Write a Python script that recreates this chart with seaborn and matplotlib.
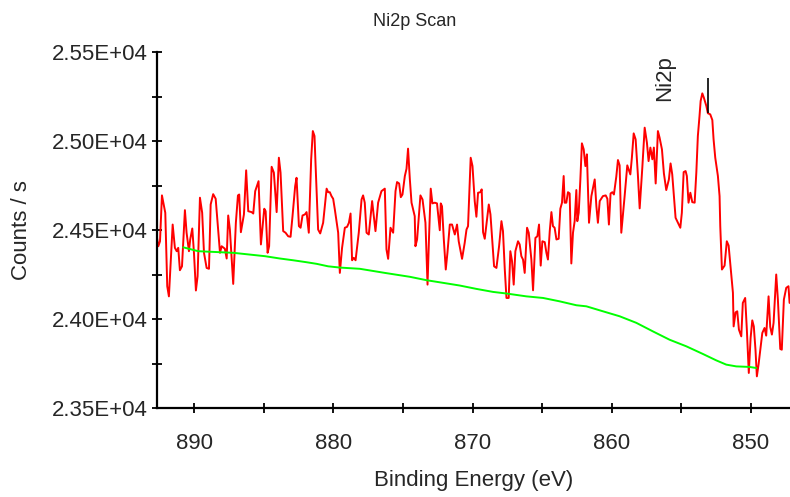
"""
Ni2p XPS scan - seaborn version
"""

import pandas as pd
import matplotlib
matplotlib.use("Agg")
import matplotlib.pyplot as plt
from matplotlib.ticker import MultipleLocator, FuncFormatter
import seaborn as sns

sns.set_style("ticks")
plt.rcParams['font.family'] = ['Liberation Sans', 'DejaVu Sans']

# measured spectrum (binding energy in eV, counts / s)
scan_ev = [
    892.75, 892.58, 892.46, 892.32, 892.08, 891.94, 891.82, 891.55, 891.39, 891.26,
    891.15, 891.03, 890.88, 890.67, 890.55, 890.38, 890.29, 890.14, 890.02, 889.88,
    889.76, 889.59, 889.43, 889.30, 889.11, 888.94, 888.82, 888.64, 888.46, 888.32,
    888.15, 888.03, 887.80, 887.67, 887.56, 887.44, 887.20, 887.01, 886.86, 886.77,
    886.65, 886.43, 886.27, 886.12, 885.88, 885.76, 885.62, 885.38, 885.21, 884.97,
    884.87, 884.73, 884.62, 884.44, 884.28, 884.08, 883.92, 883.80, 883.61, 883.44,
    883.25, 883.08, 882.94, 882.75, 882.65, 882.48, 882.36, 882.22, 882.05, 881.93,
    881.77, 881.60, 881.48, 881.36, 881.28, 881.10, 880.95, 880.74, 880.49, 880.38,
    880.26, 880.14, 880.02, 879.90, 879.66, 879.54, 879.38, 879.18, 879.02, 878.89,
    878.77, 878.66, 878.54, 878.41, 878.18, 877.98, 877.87, 877.75, 877.62, 877.46,
    877.22, 876.98, 876.79, 876.55, 876.31, 876.19, 876.07, 875.90, 875.71, 875.54,
    875.43, 875.28, 875.16, 875.04, 874.87, 874.75, 874.64, 874.51, 874.39, 874.16,
    874.11, 873.99, 873.75, 873.60, 873.39, 873.24, 873.13, 873.01, 872.89, 872.72,
    872.56, 872.36, 872.29, 872.20, 872.07, 871.93, 871.81, 871.64, 871.48, 871.28,
    871.12, 871.00, 870.76, 870.57, 870.44, 870.33, 870.14, 870.01, 869.85, 869.73,
    869.61, 869.44, 869.35, 869.25, 869.13, 869.01, 868.84, 868.72, 868.58, 868.46,
    868.29, 868.10, 867.93, 867.82, 867.69, 867.57, 867.41, 867.29, 867.17, 867.05,
    866.93, 866.74, 866.62, 866.50, 866.38, 866.26, 866.09, 865.97, 865.78, 865.66,
    865.49, 865.35, 865.23, 865.11, 864.99, 864.82, 864.70, 864.59, 864.46, 864.34,
    864.23, 864.11, 863.98, 863.82, 863.70, 863.58, 863.46, 863.39, 863.27, 863.15,
    863.03, 862.91, 862.79, 862.67, 862.55, 862.48, 862.38, 862.26, 862.15, 862.02,
    861.90, 861.79, 861.64, 861.47, 861.23, 861.11, 861.00, 860.87, 860.64, 860.44,
    860.32, 860.21, 860.09, 859.96, 859.85, 859.68, 859.56, 859.44, 859.32, 859.08,
    858.89, 858.67, 858.56, 858.43, 858.29, 858.13, 858.00, 857.81, 857.64, 857.48,
    857.36, 857.23, 857.09, 856.98, 856.85, 856.69, 856.57, 856.40, 856.26, 856.09,
    855.90, 855.78, 855.66, 855.49, 855.42, 855.25, 855.08, 854.97, 854.84, 854.70,
    854.61, 854.49, 854.36, 854.22, 854.05, 853.93, 853.82, 853.70, 853.62, 853.50,
    853.39, 853.21, 853.10, 852.93, 852.78, 852.69, 852.57, 852.38, 852.26, 852.21,
    852.09, 851.90, 851.74, 851.61, 851.42, 851.30, 851.25, 851.11, 850.99, 850.87,
    850.70, 850.59, 850.42, 850.30, 850.16, 850.03, 849.91, 849.80, 849.68, 849.58,
    849.46, 849.19, 849.03, 848.91, 848.74, 848.62, 848.50, 848.38, 848.19, 848.07,
    847.90, 847.79, 847.64, 847.47, 847.31, 847.23,
]
scan_cps = [
    24495, 24410, 24438, 24696, 24598, 24185, 24128, 24532, 24401, 24382,
    24401, 24275, 24297, 24613, 24486, 24382, 24448, 24510, 24373, 24161,
    24241, 24683, 24598, 24373, 24288, 24283, 24645, 24703, 24677, 24542,
    24373, 24410, 24396, 24341, 24583, 24504, 24198, 24542, 24696, 24701,
    24489, 24589, 24837, 24607, 24602, 24594, 24720, 24776, 24420, 24621,
    24607, 24373, 24410, 24857, 24824, 24602, 24908, 24824, 24495, 24486,
    24466, 24463, 24579, 24748, 24795, 24523, 24514, 24583, 24589, 24602,
    24486, 24899, 25058, 25030, 24861, 24504, 24482, 24542, 24734, 24714,
    24714, 24692, 24677, 24617, 24486, 24260, 24401, 24514, 24519, 24542,
    24594, 24331, 24345, 24331, 24486, 24673, 24696, 24655, 24486, 24476,
    24664, 24495, 24655, 24720, 24734, 24392, 24339, 24514, 24486, 24720,
    24771, 24763, 24686, 24701, 24805, 24846, 24959, 24786, 24655, 24579,
    24410, 24448, 24696, 24673, 24542, 24194, 24466, 24734, 24651, 24655,
    24651, 24500, 24651, 24635, 24448, 24279, 24373, 24532, 24532, 24476,
    24532, 24438, 24339, 24429, 24504, 24523, 24908, 24861, 24664, 24576,
    24711, 24714, 24730, 24489, 24452, 24532, 24645, 24589, 24429, 24297,
    24288, 24410, 24551, 24495, 24279, 24119, 24119, 24382, 24326, 24194,
    24382, 24438, 24420, 24354, 24335, 24260, 24514, 24486, 24335, 24162,
    24457, 24466, 24532, 24301, 24438, 24433, 24373, 24335, 24495, 24602,
    24523, 24514, 24448, 24452, 24621, 24655, 24805, 24655, 24655, 24714,
    24707, 24313, 24486, 24551, 24726, 24551, 24598, 24786, 24989, 24955,
    24861, 24927, 24542, 24692, 24786, 24635, 24542, 24664, 24692, 24696,
    24677, 24532, 24707, 24714, 24701, 24801, 24895, 24865, 24486, 24692,
    24865, 24814, 24908, 25045, 25011, 24814, 24623, 24852, 25077, 24993,
    24889, 24965, 24899, 24965, 24763, 25058, 25021, 24955, 24820, 24726,
    24786, 24876, 24814, 24645, 24570, 24542, 24514, 24598, 24827, 24833,
    24805, 24655, 24711, 24658, 24655, 24824, 25030, 25143, 25227, 25270,
    25246, 25199, 25158, 25152, 25120, 25011, 24908, 24805, 24692, 24523,
    24279, 24301, 24438, 24414, 24251, 24148, 23959, 24038, 24044, 23941,
    23903, 24091, 24119, 23941, 23697, 23894, 23993, 23959, 23828, 23678,
    23744, 23922, 23950, 23907, 24128, 23956, 23913, 23979, 24251, 24110,
    23832, 23828, 24110, 24176, 24185, 24091,
]

# background curve
bg_ev = [
    890.79, 889.71, 887.20, 886.00, 884.92, 883.85, 882.89, 881.93, 881.21, 880.38,
    879.54, 878.10, 876.31, 874.51, 873.32, 872.12, 870.93, 869.73, 868.53, 867.57,
    866.14, 864.94, 863.75, 862.55, 861.83, 860.64, 859.44, 858.24, 857.05, 855.85,
    854.65, 853.46, 852.50, 851.78, 851.06, 850.11, 849.63,
]
bg_cps = [
    24404, 24382, 24373, 24363, 24354, 24341, 24331, 24320, 24311, 24297,
    24290, 24283, 24260, 24238, 24219, 24204, 24189, 24170, 24153, 24144,
    24128, 24119, 24100, 24078, 24072, 24044, 24016, 23979, 23931, 23884,
    23847, 23804, 23768, 23744, 23734, 23731, 23725,
]

peak_name = 'Ni2p'
peak_ev = 853.12
peak_mark = [25158, 25355]
label_ev = 856.2
label_cps = 25225

scan = pd.DataFrame({'ev': scan_ev, 'cps': scan_cps})
bg = pd.DataFrame({'ev': bg_ev, 'cps': bg_cps})

fig = plt.figure(figsize=(7.9, 4.97), dpi=100)
ax = fig.add_axes([0.1983, 0.1791, 0.8017, 0.7153])

sns.lineplot(data=scan, x='ev', y='cps', ax=ax, color='#ff0000', lw=1.4,
             sort=False, estimator=None)
sns.lineplot(data=bg, x='ev', y='cps', ax=ax, color='#00ff00', lw=1.4,
             sort=False, estimator=None)

# peak marker
ax.vlines(peak_ev, peak_mark[0], peak_mark[1], color='black', lw=1.2)
ax.text(label_ev, label_cps, peak_name, rotation=90, ha='center', va='bottom',
        fontsize=16)

ax.set_xlim(892.7, 847.2)
ax.set_ylim(23500, 25500)

ax.xaxis.set_major_locator(MultipleLocator(10))
ax.xaxis.set_minor_locator(MultipleLocator(5))
ax.yaxis.set_major_locator(MultipleLocator(500))
ax.yaxis.set_minor_locator(MultipleLocator(250))
ax.yaxis.set_major_formatter(FuncFormatter(lambda v, p: f'{v:.2E}'))

ax.tick_params(axis='both', which='both', direction='inout', length=7.5,
               width=1.3, color='black', labelsize=16)
ax.tick_params(axis='x', which='major', pad=14)
ax.tick_params(axis='y', which='major', pad=3)

sns.despine(ax=ax)
for s in ['left', 'bottom']:
    ax.spines[s].set_linewidth(1.6)
    ax.spines[s].set_color('black')

ax.set_xlabel('Binding Energy (eV)', fontsize=16)
ax.set_ylabel('Counts / s', fontsize=16)
ax.xaxis.set_label_coords(0.5, -0.175)
ax.yaxis.set_label_coords(-0.197, 0.5)

fig.text(0.525, 0.956, 'Ni2p Scan', ha='center', va='center', fontsize=13)

fig.savefig('out.png', dpi=100)
